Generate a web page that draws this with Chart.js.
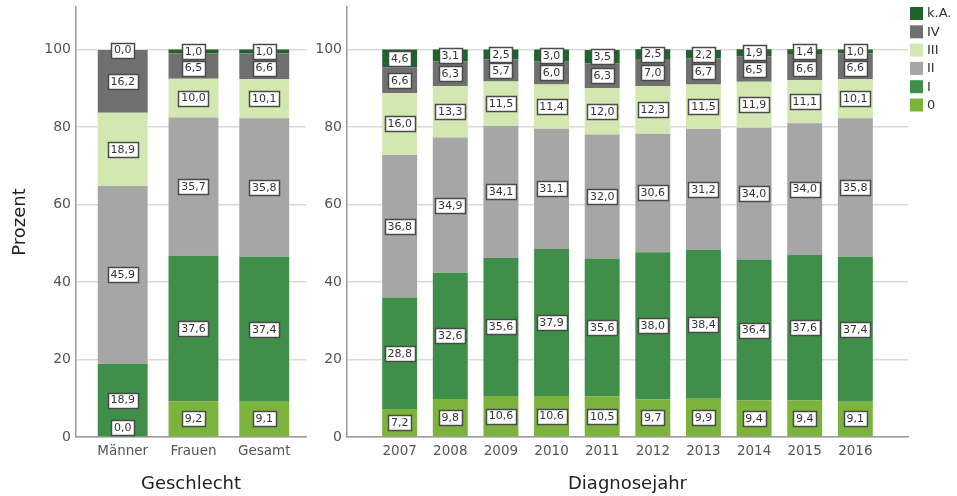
<!DOCTYPE html>
<html><head><meta charset="utf-8">
<script src="https://cdn.jsdelivr.net/npm/chart.js@4.4.1/dist/chart.umd.min.js"></script>
<style>
html,body{margin:0;padding:0;background:#fff;width:957px;height:496px;overflow:hidden}
#c1{position:absolute;left:0;top:0}
#c2{position:absolute;left:310px;top:0}
</style></head><body>
<canvas id="c1" width="310" height="496"></canvas>
<canvas id="c2" width="647" height="496"></canvas>
<script>
// ---- data ----
const sexCategories = ['Männer', 'Frauen', 'Gesamt'];
const years = ['2007','2008','2009','2010','2011','2012','2013','2014','2015','2016'];
const stageLabels = ['0', 'I', 'II', 'III', 'IV', 'k.A.'];
const stageColors = ['#7bb33d', '#3f8f4a', '#a6a6a6', '#d3e8b1', '#707070', '#1f6529'];
const yTicks = [0, 20, 40, 60, 80, 100];

const sexStage0   = [0.0, 9.2, 9.1];
const sexStageI   = [18.9, 37.6, 37.4];
const sexStageII  = [45.9, 35.7, 35.8];
const sexStageIII = [18.9, 10.0, 10.1];
const sexStageIV  = [16.2, 6.5, 6.6];
const sexStageKA  = [0.0, 1.0, 1.0];

const yearStage0   = [7.2, 9.8, 10.6, 10.6, 10.5, 9.7, 9.9, 9.4, 9.4, 9.1];
const yearStageI   = [28.8, 32.6, 35.6, 37.9, 35.6, 38.0, 38.4, 36.4, 37.6, 37.4];
const yearStageII  = [36.8, 34.9, 34.1, 31.1, 32.0, 30.6, 31.2, 34.0, 34.0, 35.8];
const yearStageIII = [16.0, 13.3, 11.5, 11.4, 12.0, 12.3, 11.5, 11.9, 11.1, 10.1];
const yearStageIV  = [6.6, 6.3, 5.7, 6.0, 6.3, 7.0, 6.7, 6.5, 6.6, 6.6];
const yearStageKA  = [4.6, 3.1, 2.5, 3.0, 3.5, 2.5, 2.2, 1.9, 1.4, 1.0];

const sexSeries = [sexStage0, sexStageI, sexStageII, sexStageIII, sexStageIV, sexStageKA];
const yearSeries = [yearStage0, yearStageI, yearStageII, yearStageIII, yearStageIV, yearStageKA];

// ---- helpers ----
const FONT = "'DejaVu Sans', Verdana, sans-serif";
Chart.defaults.font.family = FONT;
Chart.defaults.color = '#555';

function buildDatasets(series, barPct) {
  return series.map((vals, s) => ({
    label: stageLabels[s],
    backgroundColor: stageColors[s],
    borderWidth: 0,
    barPercentage: barPct,
    categoryPercentage: 1,
    data: vals.map((v, i) => ({ x: i, y: v }))
  }));
}

const segLabels = {
  id: 'segLabels',
  afterDatasetsDraw(chart) {
    const ctx = chart.ctx;
    const zeroY = chart.scales.y.getPixelForValue(0);
    const h = 15, gap = 1.5;
    const n = chart.data.datasets[0].data.length;
    ctx.save();
    ctx.font = '11px ' + FONT;
    ctx.textAlign = 'center';
    ctx.textBaseline = 'middle';
    for (let i = 0; i < n; i++) {
      const items = [];
      chart.data.datasets.forEach((ds, d) => {
        const el = chart.getDatasetMeta(d).data[i];
        const v = ds.data[i].y;
        items.push({ x: el.x, y: (el.y + el.base) / 2, t: v.toFixed(1).replace('.', ',') });
      });
      items.sort((a, b) => a.y - b.y);
      for (let k = 1; k < items.length; k++)
        if (items[k].y < items[k - 1].y + h + gap) items[k].y = items[k - 1].y + h + gap;
      const maxY = zeroY - h / 2 - 2;
      if (items[items.length - 1].y > maxY) items[items.length - 1].y = maxY;
      for (let k = items.length - 2; k >= 0; k--)
        if (items[k].y > items[k + 1].y - h - gap) items[k].y = items[k + 1].y - h - gap;
      items.forEach(it => {
        const w = Math.round(ctx.measureText(it.t).width) + 6;
        const bx = Math.round(it.x - w / 2) + 0.5, by = Math.round(it.y - h / 2) + 0.5;
        ctx.fillStyle = '#ffffff';
        ctx.fillRect(bx, by, w, h);
        ctx.strokeStyle = '#4a4a4a';
        ctx.lineWidth = 1.5;
        ctx.strokeRect(bx, by, w, h);
        ctx.fillStyle = '#333';
        ctx.fillText(it.t, it.x, it.y + 0.5);
      });
    }
    ctx.restore();
  }
};

const legendPlugin = {
  id: 'sideLegend',
  afterDraw(chart) {
    const ctx = chart.ctx;
    ctx.save();
    ctx.font = '13px ' + FONT;
    ctx.textBaseline = 'middle';
    ctx.textAlign = 'left';
    const x0 = chart.chartArea.right + 2;
    for (let k = 0; k < stageLabels.length; k++) {
      const s = stageLabels.length - 1 - k;
      const y = 7 + k * 18.3;
      ctx.fillStyle = stageColors[s];
      ctx.fillRect(x0, y, 13, 13);
      ctx.fillStyle = '#333';
      ctx.fillText(stageLabels[s], x0 + 17, y + 7);
    }
    ctx.restore();
  }
};

function yScale(width, withTitle) {
  return {
    type: 'linear', stacked: true, min: 0, max: 111,
    afterBuildTicks: sc => { sc.ticks = yTicks.map(v => ({ value: v })); },
    afterFit: sc => { sc.width = width; sc.paddingTop = 0; sc.paddingBottom = 0; },
    ticks: { padding: 5, font: { size: 14 }, color: '#555' },
    grid: { color: '#dadada', lineWidth: 1.5, drawTicks: false },
    border: { display: true, color: '#9a9a9a', width: 1.5 },
    title: { display: withTitle, text: 'Prozent', font: { size: 18 }, color: '#222', padding: { top: 10, bottom: 0 } }
  };
}

function xScale(cats, min, max, titleText) {
  return {
    type: 'linear', stacked: true, min: min, max: max, offset: false,
    afterBuildTicks: sc => { sc.ticks = cats.map((c, i) => ({ value: i })); },
    afterFit: sc => { sc.height = 59; sc.paddingLeft = 0; sc.paddingRight = 0; },
    ticks: { autoSkip: false, maxRotation: 0, padding: 6, font: { size: 13.5 }, color: '#555',
             callback: v => cats[v] },
    grid: { display: false, drawTicks: false, offset: false },
    border: { display: true, color: '#9a9a9a', width: 1.5 },
    title: { display: true, text: titleText, font: { size: 18 }, color: '#222', padding: { top: 0, bottom: 1 } }
  };
}

new Chart(document.getElementById('c1'), {
  type: 'bar',
  data: { datasets: buildDatasets(sexSeries, 0.705) },
  options: {
    responsive: false, animation: false,
    layout: { padding: { top: 7, right: 4, bottom: 0, left: 0 } },
    plugins: { legend: { display: false }, tooltip: { enabled: false } },
    scales: { x: xScale(sexCategories, -0.66, 2.59, 'Geschlecht'), y: yScale(76, true) }
  },
  plugins: [segLabels]
});

new Chart(document.getElementById('c2'), {
  type: 'bar',
  data: { datasets: buildDatasets(yearSeries, 0.69) },
  options: {
    responsive: false, animation: false,
    layout: { padding: { top: 7, right: 49, bottom: 0, left: 0 } },
    plugins: { legend: { display: false }, tooltip: { enabled: false } },
    scales: { x: xScale(years, -1.04, 10.04, 'Diagnosejahr'), y: yScale(37, false) }
  },
  plugins: [segLabels, legendPlugin]
});
</script>
</body></html>
